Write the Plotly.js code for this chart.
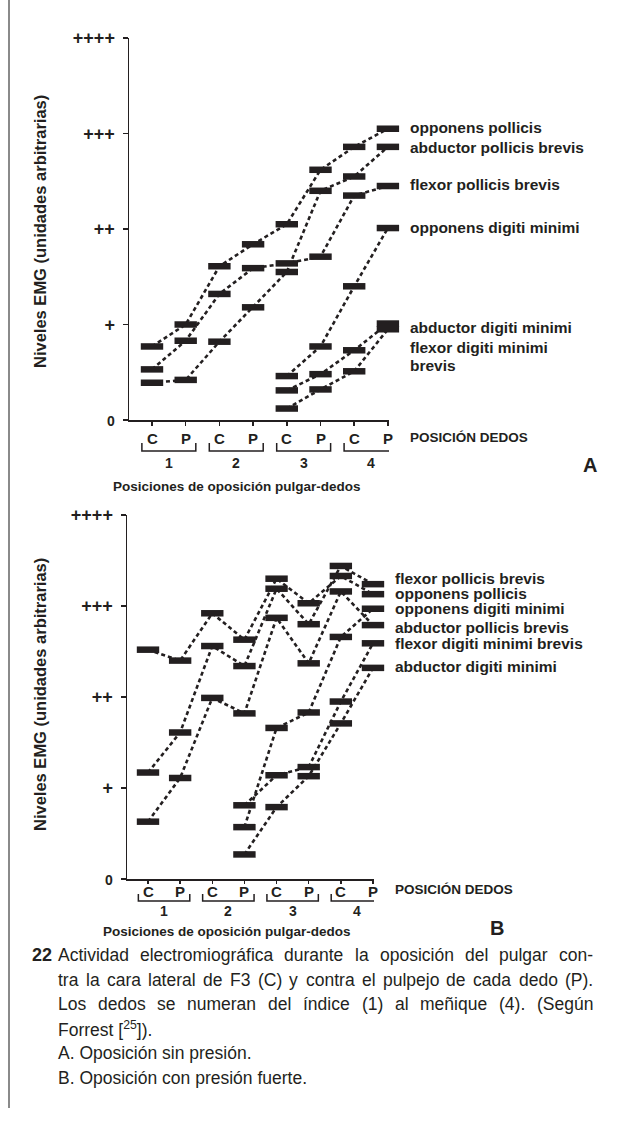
<!DOCTYPE html>
<html><head><meta charset="utf-8">
<script src="https://cdn.plot.ly/plotly-3.0.1.min.js"></script>
<style>html,body{margin:0;padding:0;background:#fff}#chart{width:620px;height:1124px}</style>
</head><body><div id="chart"></div>
<script>
// ---------- data ----------
const positions = [1, 2, 3, 4, 5, 6, 7, 8];
const posLabels = ['C', 'P', 'C', 'P', 'C', 'P', 'C', 'P'];
const fingerLabels = ['1', '2', '3', '4'];
const levelVals = [0, 1, 2, 3, 4];
const levelLabels = ['0', '+', '++', '+++', '++++'];

// Panel A: opposition without pressure
const A_names = ['opponens pollicis', 'abductor pollicis brevis', 'flexor pollicis brevis',
                 'opponens digiti minimi', 'abductor digiti minimi', 'flexor digiti minimi', 'brevis'];
const A_opponensPollicis        = [0.77, 1.00, 1.61, 1.84, 2.05, 2.62, 2.86, 3.05];
const A_abductorPollicisBrevis  = [0.39, 0.42, 0.82, 1.18, 1.55, 2.40, 2.55, 2.86];
const A_flexorPollicisBrevis    = [0.53, 0.83, 1.32, 1.59, 1.64, 1.71, 2.35, 2.45];
const A_opponensDigitiMinimi    = [null, null, null, null, 0.46, 0.77, 1.40, 2.01];
const A_abductorDigitiMinimi    = [null, null, null, null, 0.31, 0.48, 0.73, 1.01];
const A_flexorDigitiMinimiBrevis= [null, null, null, null, 0.12, 0.32, 0.51, 0.95];

// Panel B: opposition with strong pressure
const B_names = ['flexor pollicis brevis', 'opponens pollicis', 'opponens digiti minimi',
                 'abductor pollicis brevis', 'flexor digiti minimi brevis', 'abductor digiti minimi'];
const B_flexorPollicisBrevis    = [1.17, 1.61, 2.56, 2.34, 3.19, 2.80, 3.44, 3.24];
const B_opponensPollicis        = [2.52, 2.40, 2.92, 2.63, 3.30, 3.03, 3.33, 3.13];
const B_opponensDigitiMinimi    = [null, null, null, 0.57, 1.66, 1.83, 2.66, 2.97];
const B_abductorPollicisBrevis  = [0.63, 1.11, 1.99, 1.82, 2.87, 2.37, 3.16, 2.79];
const B_flexorDigitiMinimiBrevis= [null, null, null, 0.81, 1.14, 1.23, 1.95, 2.59];
const B_abductorDigitiMinimi    = [null, null, null, 0.27, 0.79, 1.13, 1.71, 2.32];

const yTitle = 'Niveles EMG (unidades arbitrarias)';
const xTitle = 'Posiciones de oposición pulgar-dedos';
const posTitle = 'POSICIÓN DEDOS';
const captionNum = '22';
const captionLines = [
  'Actividad electromiográfica durante la oposición del pulgar con-',
  'tra la cara lateral de F3 (C) y contra el pulpejo de cada dedo (P).',
  'Los dedos se numeran del índice (1) al meñique (4). (Según',
  'Forrest [<sup>25</sup>]).',
  'A. Oposición sin presión.',
  'B. Oposición con presión fuerte.'
];

// ---------- style / layout helpers ----------
const FONT = '"Liberation Sans", Arial, Helvetica, sans-serif';
const INK = '#231f20';
const W = 620, H = 1124;
const px = x => x / W;
const py = y => 1 - y / H;

function series(vals, xa, ya) {
  return {
    x: positions, y: vals, xaxis: xa, yaxis: ya, type: 'scatter', mode: 'lines+markers',
    line: {color: INK, width: 2.6, dash: '4px,3px'},
    marker: {symbol: 'line-ew', size: 16, color: INK, line: {color: INK, width: 6.5}},
    hoverinfo: 'skip', cliponaxis: false, showlegend: false
  };
}

const data = [
  A_opponensPollicis, A_abductorPollicisBrevis, A_flexorPollicisBrevis,
  A_opponensDigitiMinimi, A_abductorDigitiMinimi, A_flexorDigitiMinimiBrevis
].map(v => series(v, 'x', 'y')).concat([
  B_flexorPollicisBrevis, B_opponensPollicis, B_opponensDigitiMinimi,
  B_abductorPollicisBrevis, B_flexorDigitiMinimiBrevis, B_abductorDigitiMinimi
].map(v => series(v, 'x2', 'y2')));

function xAxis(p0, p1, first, spacing, anchor, tlen) {
  return {
    domain: [px(p0), px(p1)],
    range: [positions[0] + (p0 - first) / spacing, positions[0] + (p1 - first) / spacing],
    anchor: anchor, showline: true, linecolor: INK, linewidth: 1.5,
    ticks: 'outside', ticklen: tlen, tickwidth: 1.5, tickcolor: INK,
    tickvals: positions, showticklabels: false,
    showgrid: false, zeroline: false, fixedrange: true
  };
}
function yAxis(pBottom, pTop, anchor) {
  return {
    domain: [py(pBottom), py(pTop)], range: [levelVals[0], levelVals[levelVals.length - 1]],
    anchor: anchor, showline: true, linecolor: INK, linewidth: 1.5,
    ticks: 'outside', ticklen: 5, tickwidth: 1.5, tickcolor: INK,
    tickvals: levelVals,
    ticktext: levelLabels.map(s => s === '0' ? '<span style="font-size:14px">0</span>' : s),
    tickfont: {family: FONT, size: 18, color: INK, weight: 'bold'},
    ticklabelstandoff: 4,
    showgrid: false, zeroline: false, fixedrange: true
  };
}

const annotations = [];
const shapes = [];
function txt(text, x, y, opts) {
  annotations.push(Object.assign({
    text: text, x: x, y: y, xref: 'paper', yref: 'paper', showarrow: false,
    xanchor: 'left', yanchor: 'middle', borderpad: 0,
    font: {family: FONT, size: 15.5, color: INK, weight: 'bold'}
  }, opts || {}));
}

// muscle labels A
const A_labelY = [128, 147, 184, 227, 328, 347, 365];
A_names.forEach((n, i) => txt(n, px(409), py(A_labelY[i])));
// muscle labels B
const B_labelY = [578, 593, 608, 627, 643, 667];
B_names.forEach((n, i) => txt(n, px(394), py(B_labelY[i])));

// position letters, finger brackets and numbers
function xLabels(xref, yLetters, yTop, yBot, yNum) {
  positions.forEach((p, i) => {
    annotations.push({text: posLabels[i], x: p, y: py(yLetters), xref: xref, yref: 'paper',
      showarrow: false, xanchor: 'center', yanchor: 'middle', borderpad: 0,
      font: {family: FONT, size: 15, color: INK, weight: 'bold'}});
  });
  for (let k = 0; k < fingerLabels.length; k++) {
    const a = positions[2 * k] - 0.3, b = positions[2 * k + 1] + 0.3;
    shapes.push({type: 'path', xref: xref, yref: 'paper',
      path: `M${a},${py(yTop)} L${a},${py(yBot)} L${b},${py(yBot)} L${b},${py(yTop)}`,
      line: {color: INK, width: 1.5}});
    annotations.push({text: fingerLabels[k], x: (positions[2 * k] + positions[2 * k + 1]) / 2,
      y: py(yNum), xref: xref, yref: 'paper', showarrow: false, xanchor: 'center', yanchor: 'middle',
      borderpad: 0, font: {family: FONT, size: 14, color: INK, weight: 'bold'}});
  }
}
xLabels('x', 438, 443, 451, 463);
xLabels('x2', 891, 894, 901, 911);

// axis titles / panel labels
function yTitleAnn(yc) {
  annotations.push({text: yTitle, x: px(40), y: py(yc), xref: 'paper', yref: 'paper', showarrow: false,
    textangle: -90, xanchor: 'center', yanchor: 'middle',
    font: {family: FONT, size: 16.5, color: INK, weight: 'bold'}});
}
yTitleAnn(232);
yTitleAnn(695);
txt(posTitle, px(409), py(437), {font: {family: FONT, size: 13.5, color: INK, weight: 'bold'}});
txt(posTitle, px(394), py(889), {font: {family: FONT, size: 13.5, color: INK, weight: 'bold'}});
txt(xTitle, px(237), py(486), {xanchor: 'center', font: {family: FONT, size: 13.5, color: INK, weight: 'bold'}});
txt(xTitle, px(227), py(931), {xanchor: 'center', font: {family: FONT, size: 13.5, color: INK, weight: 'bold'}});
txt('A', px(590), py(465), {xanchor: 'center', font: {family: FONT, size: 20, color: INK, weight: 'bold'}});
txt('B', px(497), py(928), {xanchor: 'center', font: {family: FONT, size: 20, color: INK, weight: 'bold'}});

// caption (justify first three lines with canvas measurement)
const capSize = 17.5;
const capFont = {family: FONT, size: capSize, color: INK};
const ctx = document.createElement('canvas').getContext('2d');
ctx.font = capSize + 'px "Liberation Sans", Arial, sans-serif';
const capLeft = 57, capRight = 592, capTop = 955, capStep = 24.5;
txt('<b>' + captionNum + '</b>', px(31), py(capTop), {font: {family: FONT, size: 18, color: INK}});
captionLines.forEach((line, i) => {
  const yy = py(capTop + i * capStep);
  if (i < 3) {
    const words = line.split(' ');
    const widths = words.map(w => ctx.measureText(w).width);
    const total = widths.reduce((s, w) => s + w, 0);
    const gap = (capRight - capLeft - total) / (words.length - 1);
    let x = capLeft;
    words.forEach((w, j) => {
      txt(w, px(x), yy, {font: capFont});
      x += widths[j] + gap;
    });
  } else {
    txt(line, px(capLeft), yy, {font: capFont});
  }
});

// left frame rule
shapes.push({type: 'line', xref: 'paper', yref: 'paper', x0: px(9), x1: px(9), y0: py(0), y1: py(1108),
  line: {color: '#8a8a8a', width: 2}});

const layout = {
  width: W, height: H, margin: {l: 0, r: 0, t: 0, b: 0},
  paper_bgcolor: '#fff', plot_bgcolor: 'rgba(0,0,0,0)', showlegend: false,
  xaxis: xAxis(129, 389, 152, 33.7, 'y', 4),
  yaxis: yAxis(420, 38, 'x'),
  xaxis2: xAxis(127, 374, 148, 32.14, 'y2', 3),
  yaxis2: yAxis(879, 515, 'x2'),
  annotations: annotations, shapes: shapes
};
Plotly.newPlot('chart', data, layout, {staticPlot: true, displayModeBar: false});
</script>
</body></html>
